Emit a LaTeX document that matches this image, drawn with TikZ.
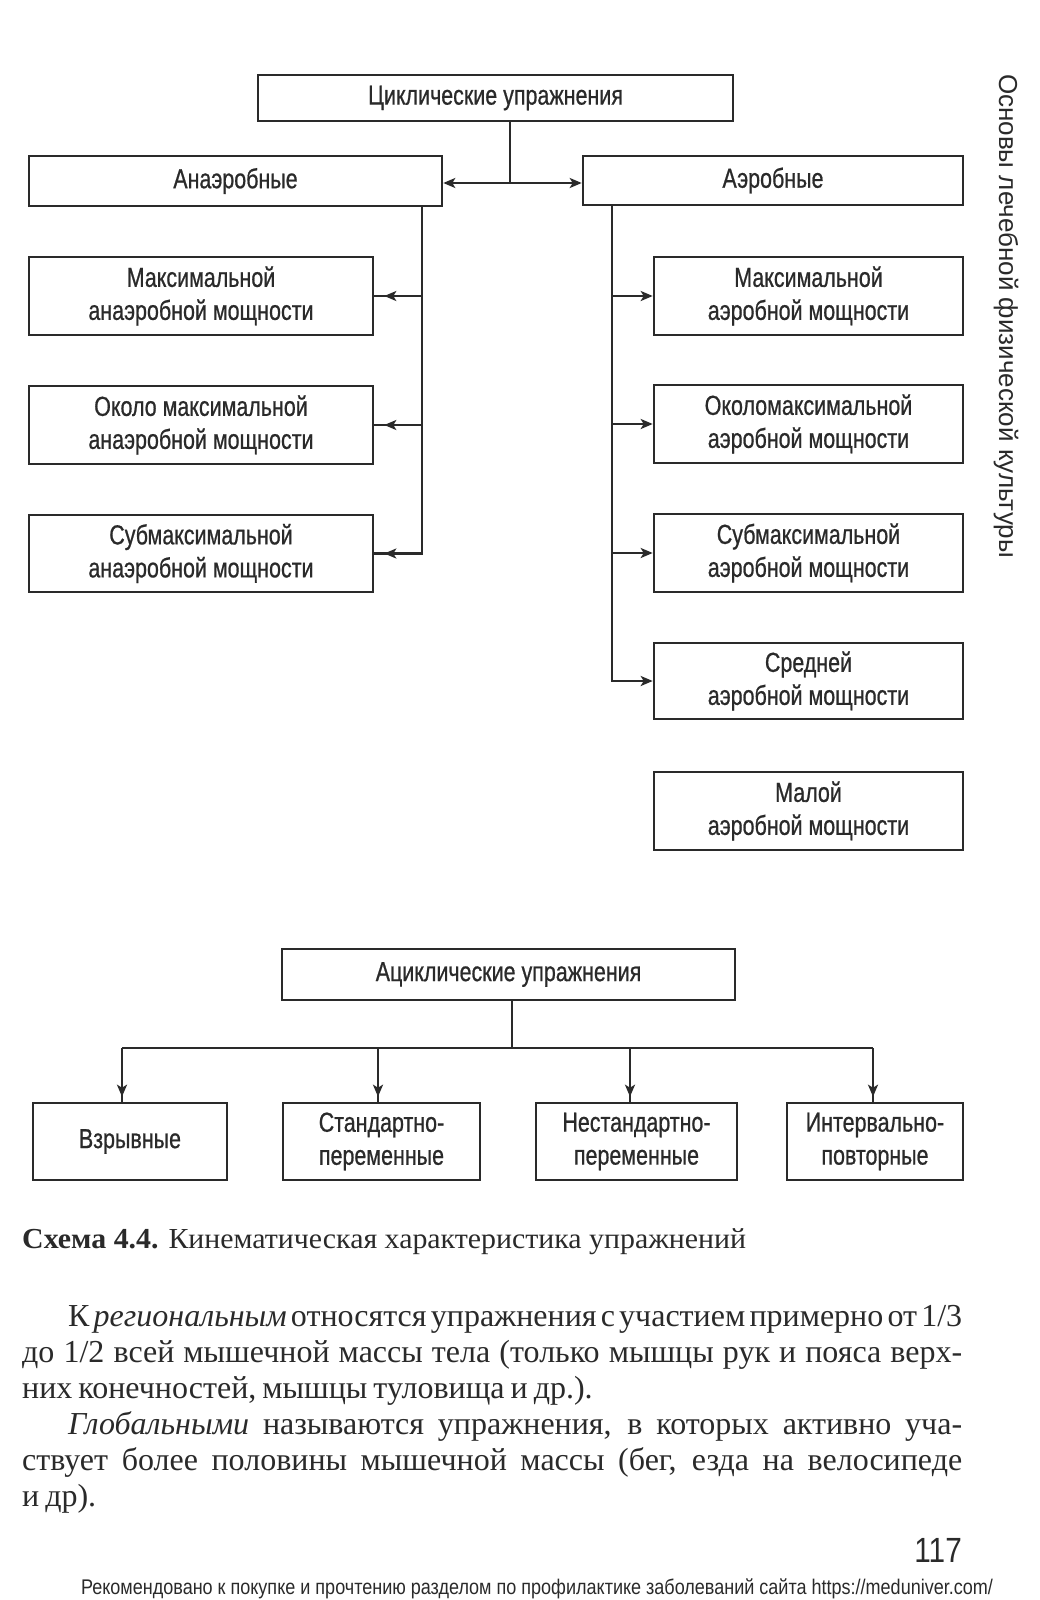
\documentclass[tikz,border=0pt]{standalone}
\usepackage{fontspec}
\setmainfont{Liberation Serif}
\setsansfont{Liberation Sans}
\newfontfamily\boxfont[FakeStretch=0.78,FakeBold=0.7]{Liberation Sans}
\newfontfamily\bodyfont[FakeStretch=1.0]{Liberation Serif}
\newfontfamily\capfont[FakeStretch=1.03]{Liberation Serif}
\newfontfamily\numfont[FakeStretch=0.85]{Liberation Sans}
\newcommand\tightsp{\spaceskip=6pt plus 14pt minus 2pt\relax}
\usetikzlibrary{arrows.meta,decorations.markings,calc}
\definecolor{ink}{HTML}{2A2A2A}
\begin{document}
\begin{tikzpicture}[x=1pt,y=-1pt,
  box/.style={draw=ink, line width=2.6pt, text=ink, align=center, inner sep=0pt,
    font=\boxfont\fontsize{27.5}{33}\selectfont},
  conn/.style={draw=ink, line width=2.2pt},
  arrowat/.style={postaction={decorate},
    decoration={markings, mark=at position #1 with {\arrow{Stealth[length=12pt,width=10pt,inset=3pt]}}}},
  tipend/.style={-{Stealth[length=12pt,width=10pt,inset=3pt]}},
  bodyline/.style={anchor=base west, inner sep=0pt, text=ink,
    font=\bodyfont\fontsize{32}{36}\selectfont\tightsp},
]
\useasboundingbox (0,0) rectangle (1039,1600);
\fill[white] (0,0) rectangle (1039,1600);

% top part
\node[box, minimum width=475, minimum height=46] (cyc) at (495.5,98) {Циклические упражнения};
\node[box, minimum width=413, minimum height=50] (anaer) at (235.5,181) {Анаэробные};
\node[box, minimum width=380, minimum height=49] (aer) at (773,180.5) {Аэробные};

\node[box, minimum width=344, minimum height=78] (L1) at (201,296) {Максимальной\\анаэробной мощности};
\node[box, minimum width=344, minimum height=78] (L2) at (201,425) {Около максимальной\\анаэробной мощности};
\node[box, minimum width=344, minimum height=77] (L3) at (201,553.5) {Субмаксимальной\\анаэробной мощности};

\node[box, minimum width=309, minimum height=78] (R1) at (808.5,296) {Максимальной\\аэробной мощности};
\node[box, minimum width=309, minimum height=78] (R2) at (808.5,424) {Околомаксимальной\\аэробной мощности};
\node[box, minimum width=309, minimum height=78] (R3) at (808.5,553) {Субмаксимальной\\аэробной мощности};
\node[box, minimum width=309, minimum height=76] (R4) at (808.5,681) {Средней\\аэробной мощности};
\node[box, minimum width=309, minimum height=78] (R5) at (808.5,811) {Малой\\аэробной мощности};

\coordinate (cv) at (510,183);
\draw[conn] (cv |- cyc.south) -- (cv);
\draw[conn, {Stealth[length=12pt,width=10pt,inset=3pt]}-{Stealth[length=12pt,width=10pt,inset=3pt]}] (cv -| anaer.east) -- (cv -| aer.west);

\coordinate (lt) at (422,206);
\draw[conn, arrowat=-10pt] (lt |- anaer.south) |- (L3.east);
\draw[conn, arrowat=-10pt] (lt |- L1.east) -- (L1.east);
\draw[conn, arrowat=-10pt] (lt |- L2.east) -- (L2.east);

\coordinate (rt) at (612,205);
\draw[conn, tipend] (rt |- aer.south) |- (R4.west);
\draw[conn, tipend] (rt |- R1.west) -- (R1.west);
\draw[conn, tipend] (rt |- R2.west) -- (R2.west);
\draw[conn, tipend] (rt |- R3.west) -- (R3.west);

% bottom part
\node[box, minimum width=453, minimum height=51] (acyc) at (508.5,974.5) {Ациклические упражнения};
\node[box, minimum width=194, minimum height=77] (B1) at (130,1141.5) {Взрывные};
\node[box, minimum width=197, minimum height=77] (B2) at (381.5,1141.5) {Стандартно-\\переменные};
\node[box, minimum width=201, minimum height=77] (B3) at (636.5,1141.5) {Нестандартно-\\переменные};
\node[box, minimum width=176, minimum height=77] (B4) at (875,1141.5) {Интервально-\\повторные};

\coordinate (bv) at (512,1048);
\coordinate (j1) at (122,1048);
\coordinate (j2) at (378,1048);
\coordinate (j3) at (630,1048);
\coordinate (j4) at (873,1048);
\draw[conn] (bv |- acyc.south) -- (bv);
\draw[conn] (j1) -- (j4);
\draw[conn, arrowat=-5pt] (j1) -- (j1 |- B1.north);
\draw[conn, arrowat=-5pt] (j2) -- (j2 |- B2.north);
\draw[conn, arrowat=-5pt] (j3) -- (j3 |- B3.north);
\draw[conn, arrowat=-5pt] (j4) -- (j4 |- B4.north);

% side title
\node[rotate=-90, text=ink, inner sep=0pt, font=\sffamily\fontsize{26}{26}\selectfont] (side) at (1006,316) {Основы лечебной физической культуры};

% caption and body text
\node[anchor=base west, inner sep=0pt, text=ink, font=\capfont\fontsize{29}{32}\selectfont] (caption) at (22,1248) {\textbf{Схема 4.4.} Кинематическая характеристика упражнений};
\node[bodyline] (t1) at (68,1326) {\makebox[894pt][s]{К \textit{региональным} относятся упражнения с участием примерно от 1/3}};
\node[bodyline] (t2) at (22,1362) {\makebox[940pt][s]{до 1/2 всей мышечной массы тела (только мышцы рук и пояса верх-}};
\node[bodyline] (t3) at (22,1398) {них конечностей, мышцы туловища и др.).};
\node[bodyline] (t4) at (68,1434) {\makebox[894pt][s]{\textit{Глобальными} называются упражнения, в которых активно уча-}};
\node[bodyline] (t5) at (22,1470) {\makebox[940pt][s]{ствует более половины мышечной массы (бег, езда на велосипеде}};
\node[bodyline] (t6) at (22,1506) {и др).};

\node[anchor=base east, inner sep=0pt, text=ink, font=\numfont\fontsize{35}{35}\selectfont] (pnum) at (962,1562) {117};
\node[anchor=base, inner sep=0pt, text=ink, font=\numfont\fontsize{21.2}{21.2}\selectfont] (foot) at (537,1594) {Рекомендовано к покупке и прочтению разделом по профилактике заболеваний сайта https://meduniver.com/};
\end{tikzpicture}
\end{document}
